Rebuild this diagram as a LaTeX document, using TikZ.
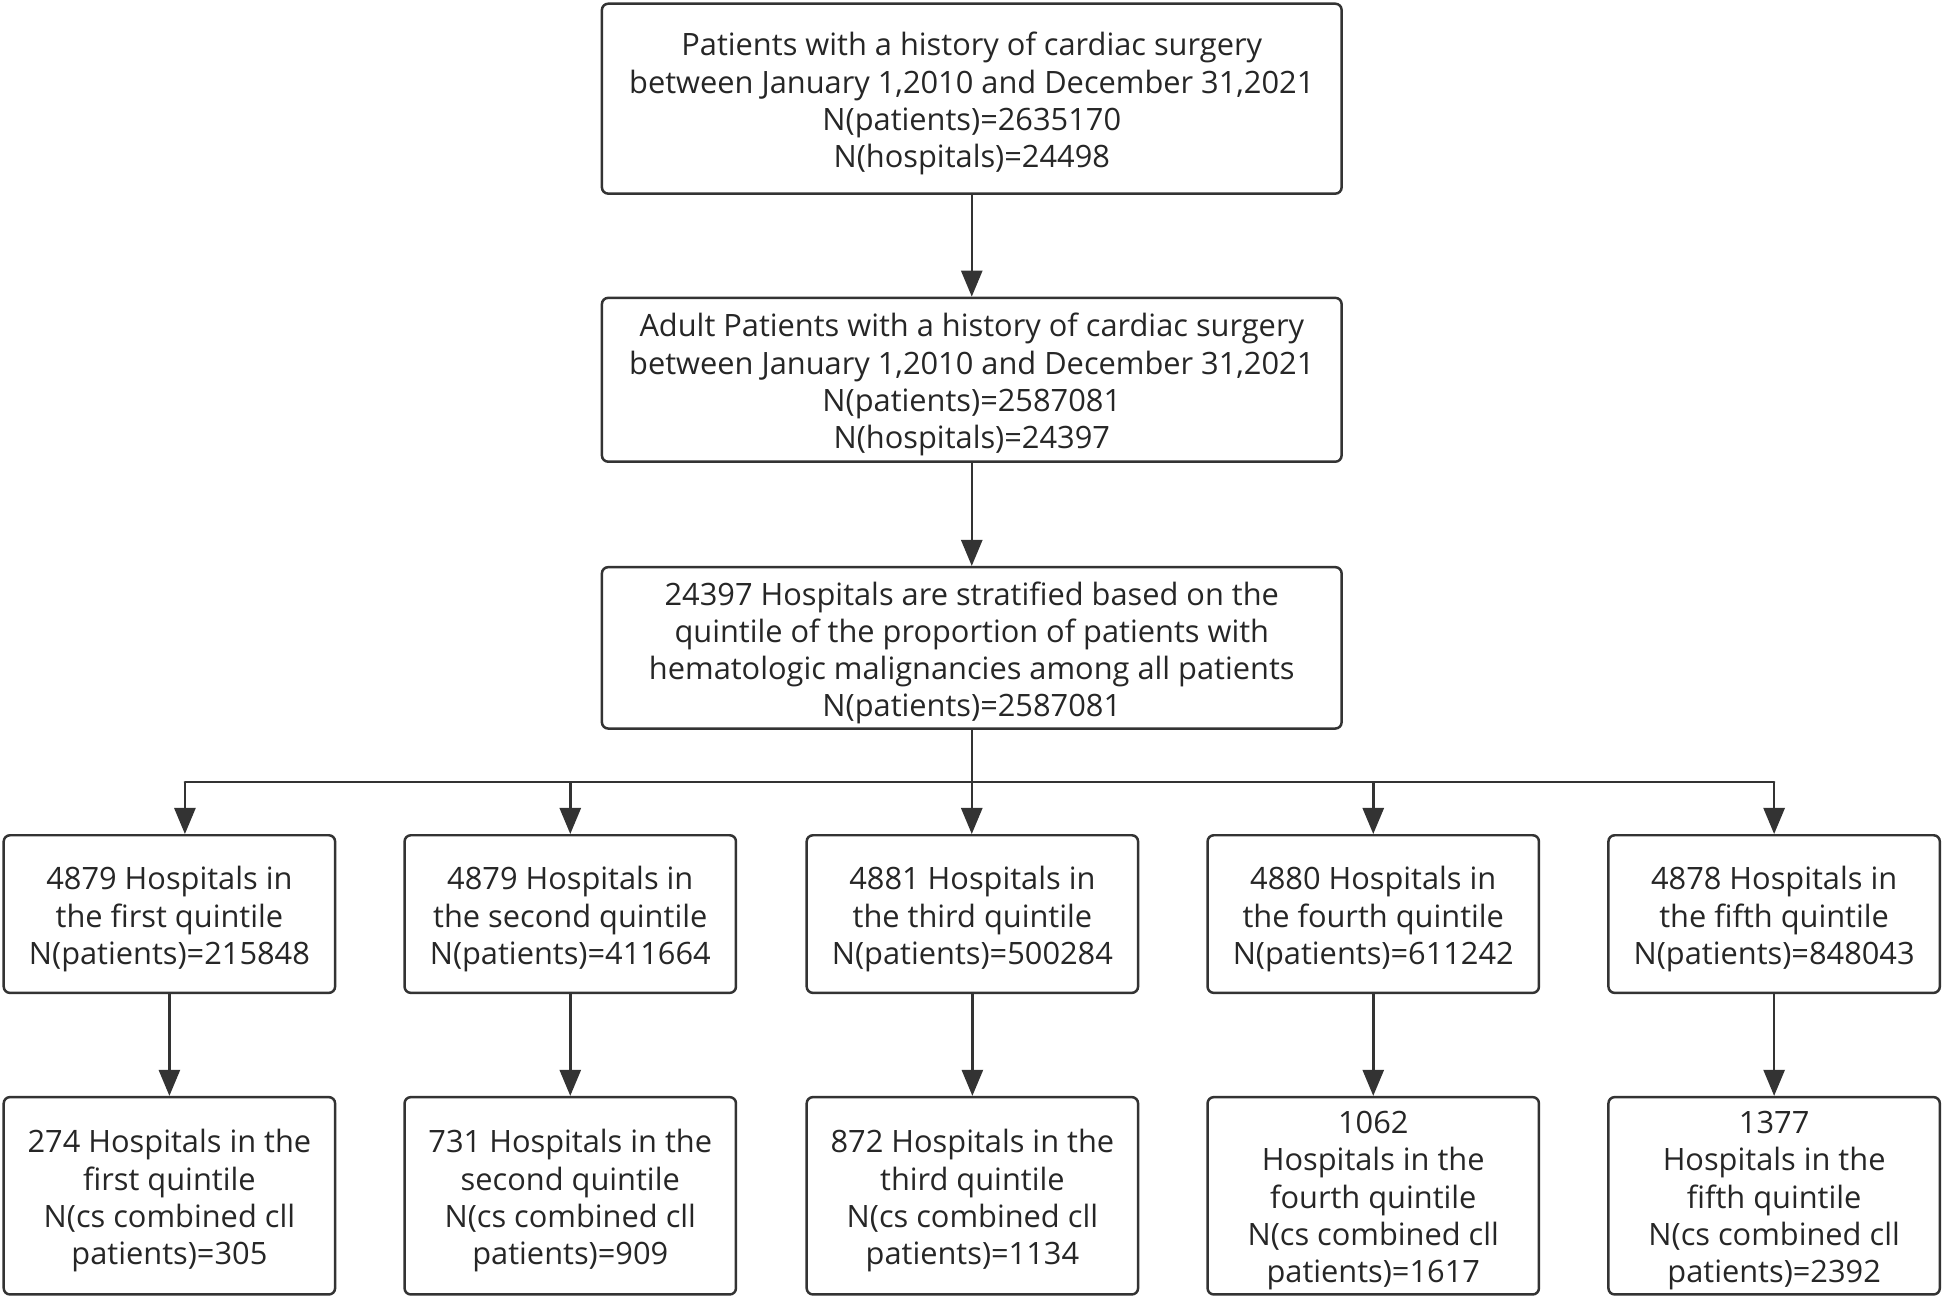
\documentclass[tikz,border=0pt]{standalone}
\usepackage{fontspec}
\setmainfont{Open Sans}
\usetikzlibrary{arrows.meta}
\definecolor{ln}{HTML}{333333}
\definecolor{tx}{HTML}{262626}
\begin{document}
\begin{tikzpicture}[x=1pt,y=-1pt,
  box/.style={draw=ln,line width=2pt,rounded corners=5pt,inner sep=0pt,fill=white},
  txt/.style={align=center,text=tx,font=\fontsize{24.8}{30}\selectfont,inner sep=0pt,yshift=-4pt},
  bigbox/.style={box,minimum width=596pt},
  qbox/.style={box,minimum width=267pt},
  arr/.style={draw=ln,line width=2pt,-{Triangle[length=21pt,width=17pt]}},
  ln/.style={draw=ln,line width=2pt}]
\path[use as bounding box,fill=white] (0,0) rectangle (1568,1047.5);
\node[bigbox,minimum height=153pt,label={[txt]center:{Patients with a history of cardiac surgery\\between January 1,2010 and December 31,2021\\N(patients)=2635170\\N(hospitals)=24498}}] (b1) at (783,79.5) {};
\node[bigbox,minimum height=132pt,label={[txt]center:{Adult Patients with a history of cardiac surgery\\between January 1,2010 and December 31,2021\\N(patients)=2587081\\N(hospitals)=24397}}] (b2) at (783,306) {};
\node[bigbox,minimum height=130pt,label={[txt]center:{24397 Hospitals are stratified based on the\\quintile of the proportion of patients with\\hematologic malignancies among all patients\\N(patients)=2587081}}] (b3) at (783,522) {};
\node[qbox,minimum height=127pt,label={[txt]center:{4879 Hospitals in\\the first quintile\\N(patients)=215848}}] (q1) at (136.5,736.5) {};
\node[qbox,minimum height=127pt,label={[txt]center:{4879 Hospitals in\\the second quintile\\N(patients)=411664}}] (q2) at (459.5,736.5) {};
\node[qbox,minimum height=127pt,label={[txt]center:{4881 Hospitals in\\the third quintile\\N(patients)=500284}}] (q3) at (783.5,736.5) {};
\node[qbox,minimum height=127pt,label={[txt]center:{4880 Hospitals in\\the fourth quintile\\N(patients)=611242}}] (q4) at (1106.5,736.5) {};
\node[qbox,minimum height=127pt,label={[txt]center:{4878 Hospitals in\\the fifth quintile\\N(patients)=848043}}] (q5) at (1429.5,736.5) {};
\node[qbox,minimum height=159pt,label={[txt]center:{274 Hospitals in the\\first quintile\\N(cs combined cll\\patients)=305}}] (r1) at (136.5,963.5) {};
\node[qbox,minimum height=159pt,label={[txt]center:{731 Hospitals in the\\second quintile\\N(cs combined cll\\patients)=909}}] (r2) at (459.5,963.5) {};
\node[qbox,minimum height=159pt,label={[txt]center:{872 Hospitals in the\\third quintile\\N(cs combined cll\\patients)=1134}}] (r3) at (783.5,963.5) {};
\node[qbox,minimum height=159pt,label={[txt]center:{1062\\Hospitals in the\\fourth quintile\\N(cs combined cll\\patients)=1617}}] (r4) at (1106.5,963.5) {};
\node[qbox,minimum height=159pt,label={[txt]center:{1377\\Hospitals in the\\fifth quintile\\N(cs combined cll\\patients)=2392}}] (r5) at (1429.5,963.5) {};
\coordinate (j) at (783,630);
\coordinate (jl) at (149,630);
\coordinate (jr) at (1429.5,630);
\draw[arr] (b1) -- (b2);
\draw[arr] (b2) -- (b3);
\draw[ln] (b3.south) -- (j);
\draw[ln,line cap=round] (jl) -- (jr);
\draw[arr] (jl) -- (q1.north -| jl);
\draw[arr] (q2.north |- j) -- (q2.north);
\draw[arr] (j) -- (q3.north -| j);
\draw[arr] (q4.north |- j) -- (q4.north);
\draw[arr] (jr) -- (q5.north);
\foreach \i in {1,...,5}{\draw[arr] (q\i) -- (r\i);}
\end{tikzpicture}
\end{document}
